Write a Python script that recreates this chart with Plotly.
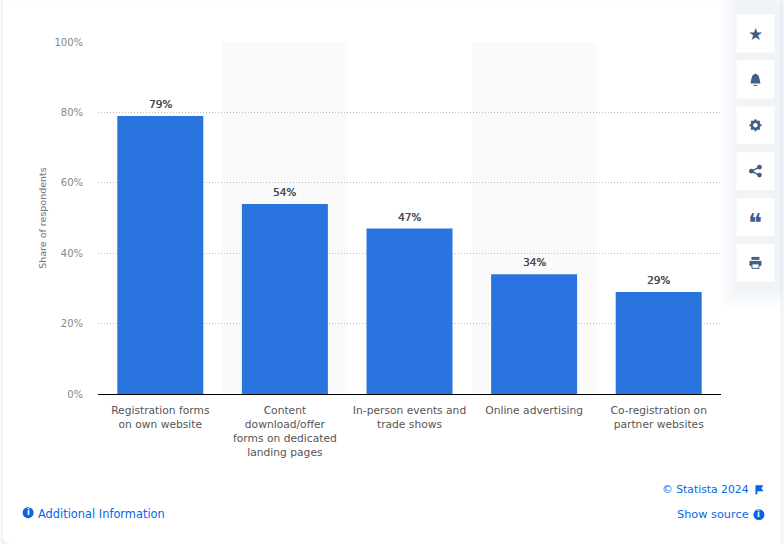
import plotly.graph_objects as go

W, H = 784, 545
# plot area in page pixels
LEFT, RIGHT, TOP, BOTTOM = 97.5, 721.5, 41.5, 394.5

categories = [
    "Registration forms<br>on own website",
    "Content<br>download/offer<br>forms on dedicated<br>landing pages",
    "In-person events and<br>trade shows",
    "Online advertising",
    "Co-registration on<br>partner websites",
]
values = [79, 54, 47, 34, 29]
y_ticks = [0, 20, 40, 60, 80, 100]
y_tick_labels = ["0%", "20%", "40%", "60%", "80%", "100%"]
button_icons = ["★", "bell", "gear", "share", "❝", "print"]

FONT = "DejaVu Sans"
BLUE = "#2974df"
LINK = "#0666e5"
ICON = "#3f5f86"


# "paper" means the plot area, so page pixels have to be converted
def px(x):
    return (x - LEFT) / (RIGHT - LEFT)


def py(y):
    return (BOTTOM - y) / (BOTTOM - TOP)


def box(x0, y0, x1, y1, **kw):
    return dict(type="rect", xref="paper", yref="paper", x0=px(x0), x1=px(x1),
                y0=py(y1), y1=py(y0), **kw)


def circle(cx, cy, r, color, **kw):
    return dict(type="circle", xref="paper", yref="paper", x0=px(cx - r), x1=px(cx + r),
                y0=py(cy + r), y1=py(cy - r), fillcolor=color, line_width=0, **kw)


def path(points, color):
    d = "M " + " L ".join(f"{px(x):.5f},{py(y):.5f}" for x, y in points) + " Z"
    return dict(type="path", xref="paper", yref="paper", path=d, fillcolor=color, line_width=0)


def line(x0, y0, x1, y1, color, width):
    return dict(type="line", xref="paper", yref="paper", x0=px(x0), x1=px(x1),
                y0=py(y0), y1=py(y1), line=dict(color=color, width=width))


def label(x, y, text, size=11.5, color=LINK, anchor="left"):
    return dict(xref="paper", yref="paper", x=px(x), y=py(y), text=text, showarrow=False,
                xanchor=anchor, yanchor="middle", font=dict(family=FONT, size=size, color=color))


fig = go.Figure(go.Bar(
    x=list(range(len(categories))),
    y=values,
    marker=dict(color=BLUE, line_width=0),
    width=0.69,
))

shapes = []
annotations = []

# value labels sit a little higher than textposition="outside" puts them
for i, v in enumerate(values):
    annotations.append(dict(x=i, y=v, xref="x", yref="y", text=f"{v}%", showarrow=False,
                            yanchor="middle", yshift=12,
                            font=dict(family=FONT, size=10.5, color="#4a4a4a",
                                      shadow="0.15px 0 0 #4a4a4a")))

# page background and card
shapes.append(box(0, 0, W, H, fillcolor="#f1f3f8", line_width=0, layer="below"))
shapes.append(dict(type="path", xref="paper", yref="paper", layer="below", fillcolor="white", line_width=0,
                   path=f"M {px(2)},{py(0)} L {px(781)},{py(0)} L {px(781)},{py(545)} "
                        f"L {px(12)},{py(545)} Q {px(2)},{py(545)} {px(2)},{py(535)} Z"))

# soft glow around the button column
for spread in (16, 11, 6, 2):
    shapes.append(box(737 - spread, 0, 784, 290 + spread, fillcolor="rgba(222,228,242,0.13)",
                      line_width=0, layer="below"))

# alternating bands behind the bars
for band in (1, 3):
    shapes.append(dict(type="rect", xref="x", yref="y", x0=band - 0.5, x1=band + 0.5,
                       y0=0, y1=100, fillcolor="#fafafa", line_width=0, layer="below"))

# side buttons
for i, name in enumerate(button_icons):
    top = 14 + 46 * i
    shapes.append(box(737, top, 775, top + 38, fillcolor="white", line_width=0, layer="below"))
    cx, cy = 756, top + 19
    if name == "bell":
        shapes.append(path([(cx - 5, cy + 4), (cx - 4, cy - 1), (cx - 3, cy - 4), (cx, cy - 6),
                            (cx + 3, cy - 4), (cx + 4, cy - 1), (cx + 5, cy + 4)], ICON))
        shapes.append(line(cx - 2, cy + 6, cx + 2, cy + 6, ICON, 1))
    elif name == "gear":
        shapes.append(dict(type="circle", xref="paper", yref="paper", x0=px(cx - 3.5), x1=px(cx + 3.5),
                           y0=py(cy + 3.5), y1=py(cy - 3.5), line=dict(color=ICON, width=3)))
        for dx, dy in ((6, 0), (0, 6), (4.2, 4.2), (4.2, -4.2)):
            shapes.append(line(cx - dx, cy - dy, cx + dx, cy + dy, ICON, 2))
        shapes.append(circle(cx, cy, 2.2, "white"))
    elif name == "share":
        shapes.append(line(cx + 4, cy - 4, cx - 4, cy, ICON, 1.3))
        shapes.append(line(cx + 4, cy + 4, cx - 4, cy, ICON, 1.3))
        for dx, dy, r in ((4, -4, 2.4), (4, 4, 2.4), (-4, 0, 2.4)):
            shapes.append(circle(cx + dx, cy + dy, r, ICON))
    elif name == "print":
        shapes.append(box(cx - 6, cy - 2, cx + 6, cy + 3, fillcolor=ICON, line_width=0))
        shapes.append(box(cx - 4, cy - 6, cx + 4, cy - 3, fillcolor=ICON, line_width=0))
        shapes.append(box(cx - 3.5, cy + 1, cx + 3.5, cy + 5.5, fillcolor="white",
                          line=dict(color=ICON, width=1)))
    else:
        annotations.append(label(cx, cy + (6 if name == "❝" else 0), name,
                                 size=17 if name == "★" else 26, color=ICON, anchor="center"))

# footer links
shapes.append(circle(27.5, 513.5, 5.5, LINK))
annotations.append(label(27.5, 513.5, "<b>i</b>", size=8, color="white", anchor="center"))
annotations.append(label(35.5, 514.5, "Additional Information", size=11.4))
annotations.append(label(752, 490.5, "© Statista 2024", size=10.8, anchor="right"))
shapes.append(path([(756, 486), (764, 486), (762, 489), (764, 492), (758, 492), (758, 495), (756, 495)], LINK))
annotations.append(label(752, 515.5, "Show source", size=11.3, anchor="right"))
shapes.append(circle(759.5, 515.5, 5.5, LINK))
annotations.append(label(759.5, 515.5, "<b>i</b>", size=8, color="white", anchor="center"))

fig.update_layout(
    width=W, height=H,
    margin=dict(l=LEFT, r=W - RIGHT, t=TOP, b=H - BOTTOM),
    paper_bgcolor="white",
    plot_bgcolor="rgba(0,0,0,0)",
    showlegend=False,
    font=dict(family=FONT, size=10.5, color="#555555"),
    shapes=shapes,
    annotations=annotations,
)
fig.update_xaxes(
    range=[-0.5, 4.5],
    tickmode="array",
    tickvals=list(range(len(categories))),
    ticktext=categories,
    tickangle=0,
    ticks="",
    ticklabelstandoff=6,
    showgrid=False,
    showline=True,
    linecolor="#000000",
    linewidth=1,
    zeroline=False,
    tickfont=dict(family=FONT, size=10.7, color="#555555"),
)
fig.update_yaxes(
    range=[0, 100],
    tickmode="array",
    tickvals=y_ticks,
    ticktext=y_tick_labels,
    tickfont=dict(family=FONT, size=10, color="#888888"),
    ticks="",
    ticklabelstandoff=14,
    showgrid=True,
    gridcolor="#bdbdbd",
    griddash="1px,2px",
    gridwidth=1,
    zeroline=False,
    title=dict(text="Share of respondents", font=dict(family=FONT, size=9.5, color="#6f6f7f"), standoff=6),
)

# drop the default 8px page margin so the figure fills the window
fig.write_html("out.html", config=dict(displayModeBar=False),
               post_script="document.body.style.margin='0';")
